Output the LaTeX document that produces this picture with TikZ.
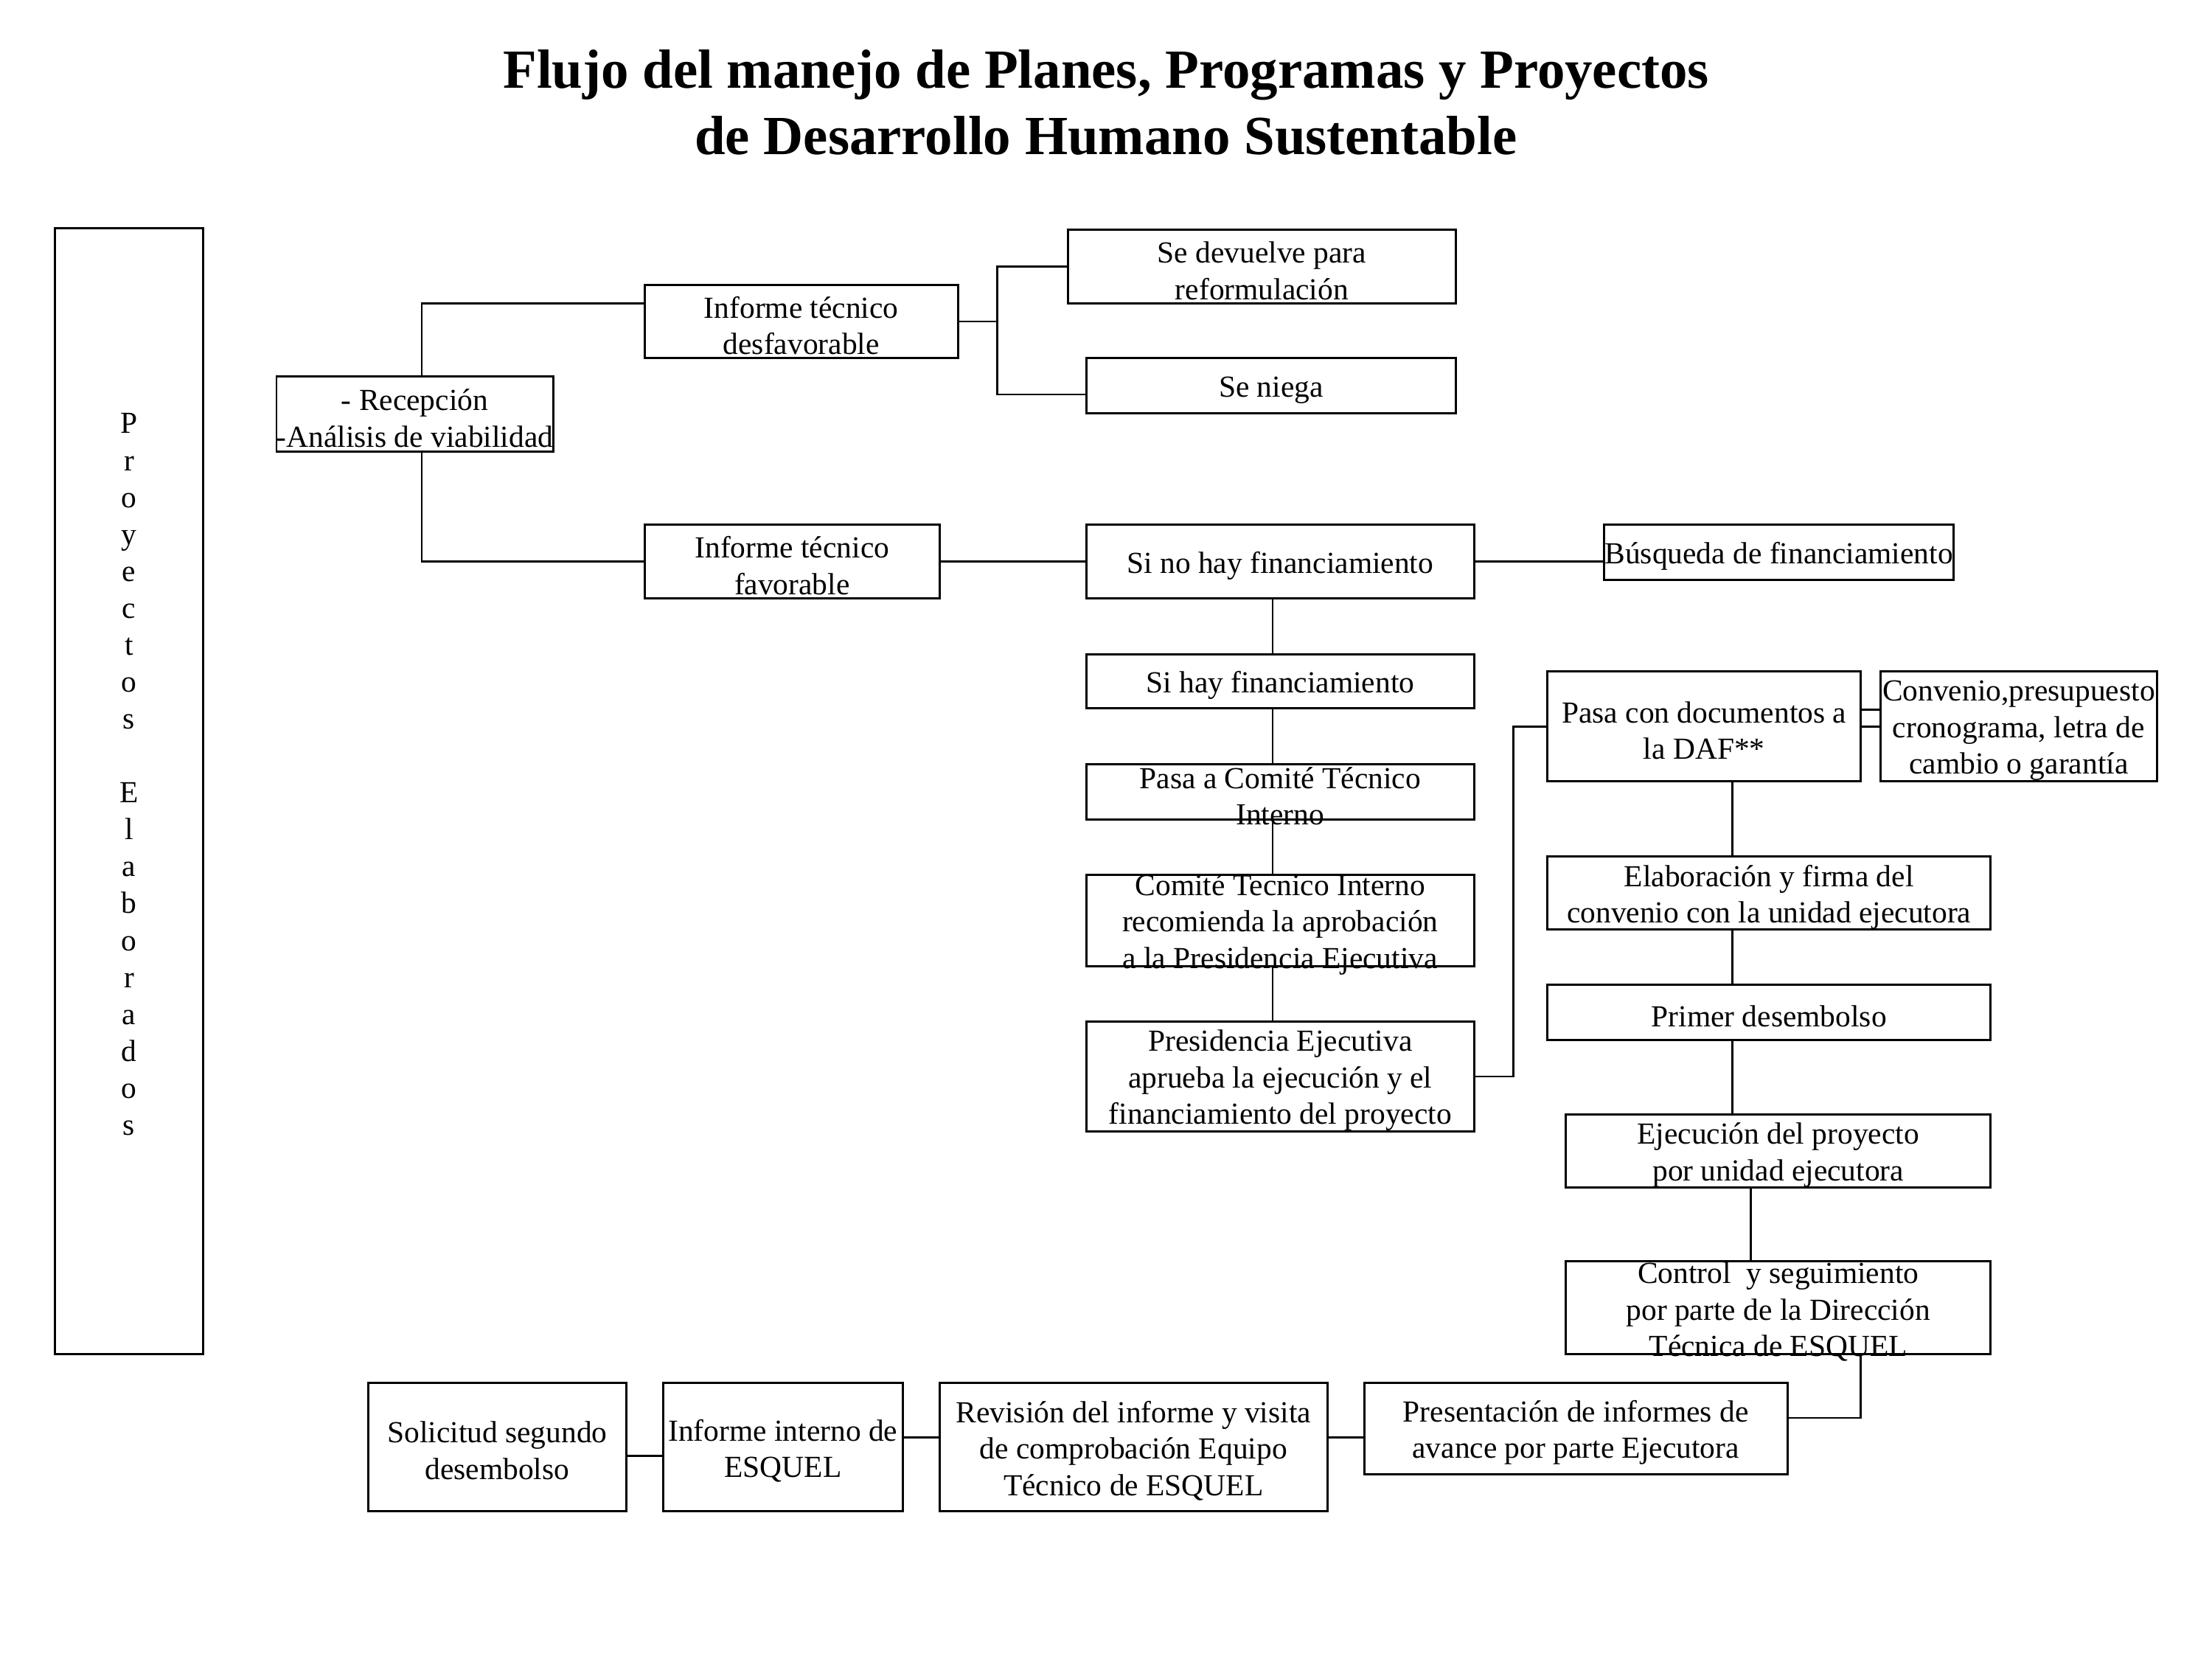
\documentclass[tikz,border=0pt]{standalone}
\usepackage{fontspec}
\setmainfont{Liberation Serif}
\usetikzlibrary{calc}

\tikzset{
  caja/.style 2 args={draw,line width=0.85pt,inner sep=0pt,minimum width=#1*0.019133cm,minimum height=#2*0.019133cm},
  texto/.style={label={[align=center,inner sep=0pt,yshift=-0.055cm]center:#1}},
  linea/.style={line width=0.7pt}
}

\begin{document}
\begin{tikzpicture}[x=0.019133cm,y=-0.019133cm,font=\fontsize{11.8}{14.1}\selectfont]
\useasboundingbox (0,0) rectangle (1568,1176);
\node [font=\fontsize{21.3}{25.5}\selectfont\bfseries,align=center] (Titulo) at (784,72.5) {Flujo del manejo de Planes, Programas y Proyectos\\de Desarrollo Humano Sustentable};
% columna izquierda
\node [caja={105}{798},label={[align=center,inner sep=0pt,yshift=0.23cm,font=\fontsize{11.8}{14.25}\selectfont]center:P\\r\\o\\y\\e\\c\\t\\o\\s\\\mbox{}\\E\\l\\a\\b\\o\\r\\a\\d\\o\\s}] (Proyectos) at (91.5,561) {};
\node [caja={196}{53},texto={- Recepción\\-Análisis de viabilidad}] (Recepcion) at (294,293.5) {};
\node [caja={222}{52},texto={Informe técnico\\desfavorable}] (InformeDesfavorable) at (568,228) {};
\node [caja={209}{52},texto={Informe técnico\\favorable}] (InformeFavorable) at (561.5,398) {};
\node [caja={275}{52},texto={Se devuelve para\\reformulación}] (SeDevuelve) at (894.5,189) {};
\node [caja={262}{39},texto={Se niega}] (SeNiega) at (901,273.5) {};
% columna central
\node [caja={275}{52},texto={Si no hay financiamiento}] (SiNoHay) at (907.5,398) {};
\node [caja={248}{39},texto={Búsqueda de financiamiento}] (Busqueda) at (1261,391.5) {};
\node [caja={275}{38},texto={Si hay financiamiento}] (SiHay) at (907.5,483) {};
\node [caja={275}{39},texto={Pasa a Comité Técnico\\Interno}] (PasaComite) at (907.5,561.5) {};
\node [caja={275}{65},texto={Comité Tecnico Interno\\recomienda la aprobación\\a la Presidencia Ejecutiva}] (ComiteRecomienda) at (907.5,652.5) {};
\node [caja={275}{78},texto={Presidencia Ejecutiva\\aprueba la ejecución y el\\financiamiento del proyecto}] (Presidencia) at (907.5,763) {};
% columna derecha
\node [caja={222}{78},texto={Pasa con documentos a\\la DAF**}] (PasaDAF) at (1208,515) {};
\node [caja={196}{78},texto={Convenio,presupuesto\\cronograma, letra de\\cambio o garantía}] (Convenio) at (1431,515) {};
\node [caja={314}{52},texto={Elaboración y firma del\\convenio con la unidad ejecutora}] (Elaboracion) at (1254,633) {};
\node [caja={314}{39},texto={Primer desembolso}] (PrimerDesembolso) at (1254,717.5) {};
\node [caja={301}{52},texto={Ejecución del proyecto\\por unidad ejecutora}] (Ejecucion) at (1260.5,816) {};
\node [caja={301}{66},texto={Control~ y seguimiento\\por parte de la Dirección\\Técnica de ESQUEL}] (Control) at (1260.5,927) {};
% fila inferior
\node [caja={300}{65},texto={Presentación de informes de\\avance por parte Ejecutora}] (Presentacion) at (1117,1012.5) {};
\node [caja={275}{91},texto={Revisión del informe y visita\\de comprobación Equipo\\Técnico de ESQUEL}] (Revision) at (803.5,1025.5) {};
\node [caja={170}{91},texto={Informe interno de\\ESQUEL}] (InformeInterno) at (555,1025.5) {};
\node [caja={183}{91},texto={Solicitud segundo\\desembolso}] (Solicitud) at (352.5,1025.5) {};
% conectores
\coordinate (RamaDesf) at ($(InformeDesfavorable.east)+(27,0)$);
\coordinate (EjeA) at (1228,0);
\coordinate (EjeB) at (1241,0);
\coordinate (EjeC) at (1319,0);
\coordinate (Nivel) at (0,1019);
\draw [linea] ($(Recepcion.north)+(5,0)$) |- ($(InformeDesfavorable.west)+(0,-13)$);
\draw [linea] ($(Recepcion.south)+(5,0)$) |- (InformeFavorable.west);
\draw [linea] (InformeDesfavorable.east) -- (RamaDesf);
\draw [linea] (SeDevuelve.west) -| (RamaDesf) |- ($(SeNiega.west)+(0,6)$);
\draw [linea] (InformeFavorable.east) -- (SiNoHay.west);
\draw [linea] (SiNoHay.east) -- (SiNoHay.east -| Busqueda.west);
\foreach \a/\b in {SiNoHay/SiHay,SiHay/PasaComite,PasaComite/ComiteRecomienda,ComiteRecomienda/Presidencia}
  \draw [linea] ($(\a.south)+(-5.5,0)$) -- ($(\b.north)+(-5.5,0)$);
\draw [linea] (Presidencia.east) -- ++(27,0) |- (PasaDAF.west);
\draw [linea] (PasaDAF.east) -- (PasaDAF.east -| Convenio.west);
\draw [linea] ($(PasaDAF.east)+(0,-12)$) -- ($(PasaDAF.east -| Convenio.west)+(0,-12)$);
\draw [linea] (EjeA |- PasaDAF.south) -- (EjeA |- Elaboracion.north);
\draw [linea] (EjeA |- Elaboracion.south) -- (EjeA |- PrimerDesembolso.north);
\draw [linea] (EjeA |- PrimerDesembolso.south) -- (EjeA |- Ejecucion.north);
\draw [linea] (EjeB |- Ejecucion.south) -- (EjeB |- Control.north);
\draw [linea] (EjeC |- Control.south) |- ($(Presentacion.east)+(0,-7.5)$);
\draw [linea] (Presentacion.west |- Nivel) -- (Revision.east |- Nivel);
\draw [linea] (Revision.west |- Nivel) -- (InformeInterno.east |- Nivel);
\draw [linea] ($(InformeInterno.west)+(0,6.5)$) -- ($(Solicitud.east)+(0,6.5)$);
\end{tikzpicture}
\end{document}
